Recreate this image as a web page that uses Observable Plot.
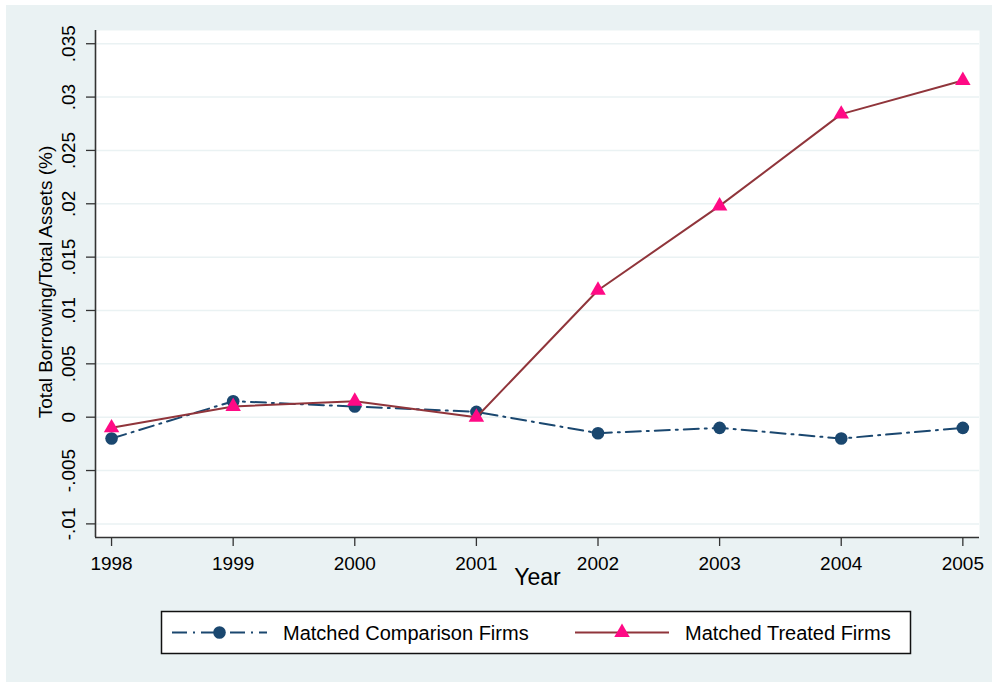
<!DOCTYPE html>
<html>
<head>
<meta charset="utf-8">
<script src="https://cdn.jsdelivr.net/npm/d3@7"></script>
<script src="https://cdn.jsdelivr.net/npm/@observablehq/plot@0.6"></script>
<style>
  html, body { margin: 0; padding: 0; background: #ffffff; }
  #page { position: relative; width: 992px; height: 682px; overflow: hidden; font-family: "Liberation Sans", Arial, sans-serif; }
  #bg { position: absolute; left: 6px; top: 5px; width: 986px; height: 677px; background: #eaf2f3; }
  #chart { position: absolute; left: 0; top: 0; }
  #legend { position: absolute; left: 0; top: 600px; }
</style>
</head>
<body>
<div id="page">
  <div id="bg"></div>
  <div id="chart"></div>
  <div id="legend"></div>
</div>
<script>
// ---- data ----
const years = [1998, 1999, 2000, 2001, 2002, 2003, 2004, 2005];
const comparisonValues = [-0.002, 0.0015, 0.001, 0.0005, -0.0015, -0.001, -0.002, -0.001];
const treatedValues = [-0.001, 0.001, 0.0015, 0.0, 0.0119, 0.0198, 0.0284, 0.03155];
const yTicks = [-0.01, -0.005, 0, 0.005, 0.01, 0.015, 0.02, 0.025, 0.03, 0.035];
const yTickLabels = ["-.01", "-.005", "0", ".005", ".01", ".015", ".02", ".025", ".03", ".035"];
const seriesNames = ["Matched Comparison Firms", "Matched Treated Firms"];
const xTitle = "Year";
const yTitle = "Total Borrowing/Total Assets (%)";

const comparison = years.map((year, i) => ({year, value: comparisonValues[i]}));
const treated = years.map((year, i) => ({year, value: treatedValues[i]}));

const navy = "#1a476f", maroon = "#90353b", pink = "#ff0a85";
const xDomain = [1997.868, 2005.137];
const yDomain = [-0.011276, 0.03624];

const chart = Plot.plot({
  width: 992,
  height: 600,
  marginLeft: 95,
  marginRight: 13,
  marginTop: 30,
  marginBottom: 63,
  style: {background: "transparent", color: "#000", fontFamily: "'Liberation Sans', Arial, sans-serif"},
  x: {domain: xDomain},
  y: {domain: yDomain},
  marks: [
    Plot.frame({fill: "white", stroke: null}),
    Plot.gridY(yTicks, {stroke: "#eaf2f3", strokeOpacity: 1, strokeWidth: 1.5}),
    Plot.axisY({ticks: yTicks, tickFormat: d => yTickLabels[yTicks.indexOf(d)], tickRotate: -90,
      tickSize: 9, tickPadding: 12, fontSize: 19, label: null, stroke: "#333", strokeWidth: 1.3}),
    Plot.axisX({ticks: years, tickFormat: d => String(d), tickSize: 9, tickPadding: 10,
      fontSize: 19, label: null, stroke: "#333", strokeWidth: 1.3}),
    Plot.ruleX([xDomain[0]], {stroke: "#333", strokeWidth: 1.6}),
    Plot.ruleY([yDomain[0]], {stroke: "#333", strokeWidth: 1.6}),
    Plot.line(comparison, {x: "year", y: "value", stroke: navy, strokeWidth: 2, strokeDasharray: "15,6,2,6"}),
    Plot.dot(comparison, {x: "year", y: "value", fill: navy, r: 6.3, symbol: "circle"}),
    Plot.line(treated, {x: "year", y: "value", stroke: maroon, strokeWidth: 2}),
    Plot.dot(treated, {x: "year", y: "value", fill: pink, r: 5.75, symbol: "triangle"}),
    Plot.text([yTitle], {frameAnchor: "left", textAnchor: "middle", dx: -49.5, dy: -2, rotate: -90, fontSize: 19, fill: "#000"}),
    Plot.text([xTitle], {frameAnchor: "bottom", dy: 47.6, fontSize: 23, fill: "#000"})
  ]
});
document.getElementById("chart").appendChild(chart);

// ---- legend ----
const lg = d3.select("#legend").append("svg").attr("width", 992).attr("height", 82)
  .style("font-family", "'Liberation Sans', Arial, sans-serif");
lg.append("rect").attr("x", 161.5).attr("y", 11.5).attr("width", 749).attr("height", 42)
  .attr("fill", "white").attr("stroke", "#111").attr("stroke-width", 1.5);
const cy = 32.5;
lg.append("line").attr("x1", 172).attr("x2", 267).attr("y1", cy).attr("y2", cy)
  .attr("stroke", navy).attr("stroke-width", 2).attr("stroke-dasharray", "15,6,2,6");
lg.append("circle").attr("cx", 219.5).attr("cy", cy).attr("r", 6.3).attr("fill", navy);
lg.append("text").attr("x", 283).attr("y", cy).attr("dy", "0.35em").attr("font-size", 20).text(seriesNames[0]);
lg.append("line").attr("x1", 575).attr("x2", 669).attr("y1", cy).attr("y2", cy)
  .attr("stroke", maroon).attr("stroke-width", 2);
lg.append("path").attr("transform", `translate(622,${cy})`)
  .attr("d", d3.symbol(d3.symbolTriangle, 5.75 * 5.75 * Math.PI)()).attr("fill", pink);
lg.append("text").attr("x", 685).attr("y", cy).attr("dy", "0.35em").attr("font-size", 20).text(seriesNames[1]);
</script>
</body>
</html>
